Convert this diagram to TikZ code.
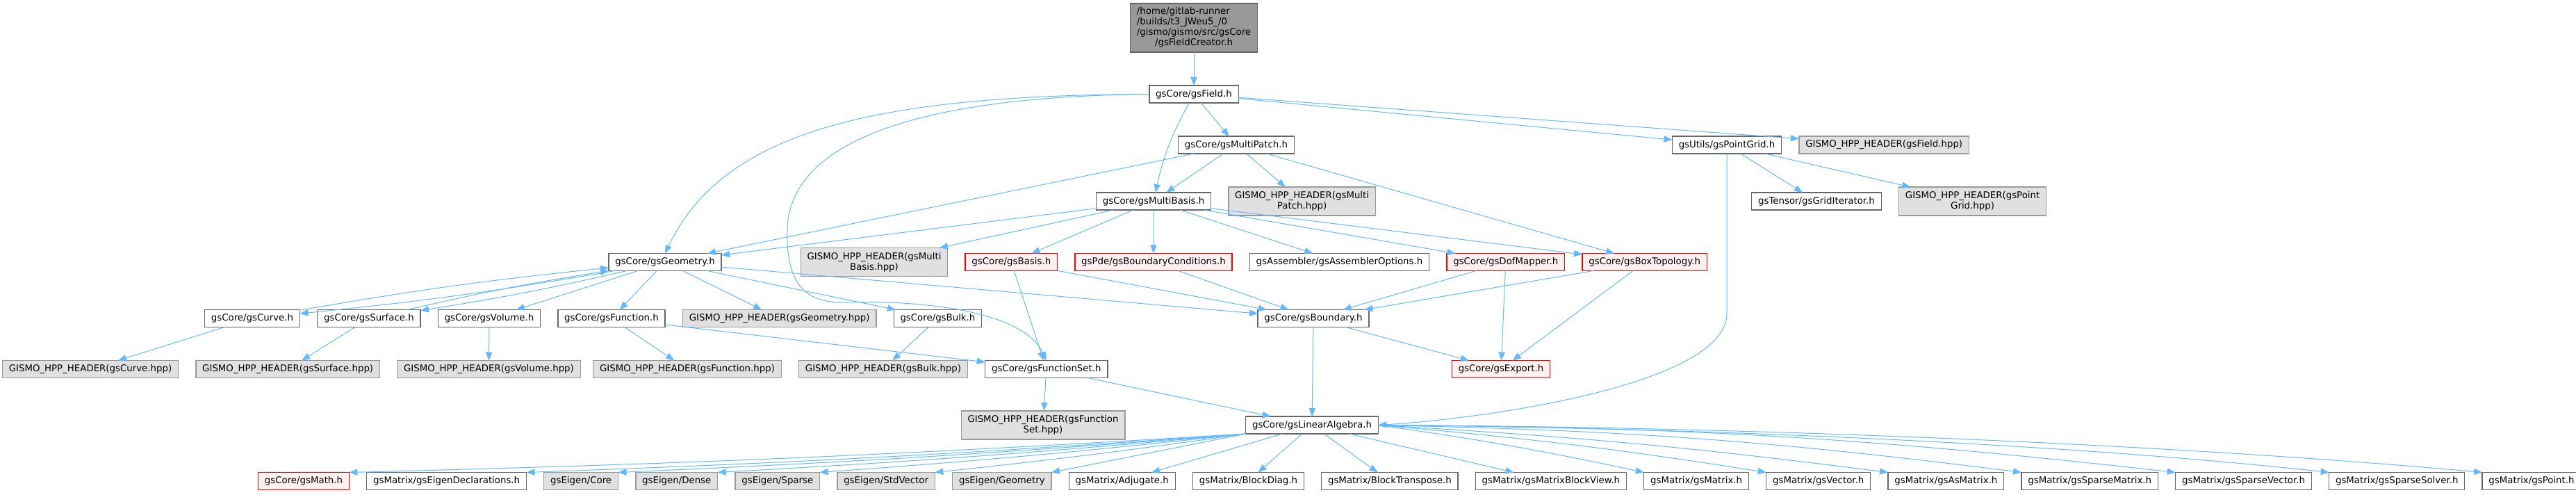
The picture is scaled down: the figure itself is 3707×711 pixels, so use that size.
\documentclass[tikz,border=0pt]{standalone}
\usepackage{fontspec}
\setmainfont{DejaVu Sans}
\usepackage{tikz}
\usetikzlibrary{arrows.meta,positioning}
\definecolor{edgeblue}{HTML}{63B8FF}
\definecolor{hppgray}{HTML}{E0E0E0}
\definecolor{rootgray}{HTML}{999999}
\definecolor{brokenfill}{HTML}{FFF0F0}

\begin{document}
\begin{tikzpicture}[
    x=0.75pt, y=0.75pt,
    ->, >={Triangle[length=9pt,width=7pt]},
    node distance=19pt,
    every node/.style={font=\fontsize{10pt}{11.25pt}\selectfont, inner xsep=7pt, inner ysep=2pt,
        minimum height=18.75pt, line width=1pt, outer sep=0pt},
    hdr/.style={rectangle, draw=black!60, fill=white},
    hpp/.style={rectangle, draw=black!40, fill=hppgray, align=center},
    hpptwo/.style={hpp, minimum height=30.75pt},
    broken/.style={rectangle, draw=red, fill=brokenfill},
    rootfile/.style={rectangle, draw=black!60, fill=rootgray, minimum height=52.5pt},
    dep/.style={draw=edgeblue, line width=0.75pt}
]
\useasboundingbox (0,0) rectangle (3707,711);

\node[rootfile] (creator) at (1718,671) {\begin{tabular}{@{}l@{}}/home/gitlab-runner\\/builds/t3\_JWeu5\_/0\\/gismo/gismo/src/gsCore\\\multicolumn{1}{@{}c@{}}{/gsFieldCreator.h}\end{tabular}};
\node[hdr] (field) [below=36pt of creator] {gsCore/gsField.h};

\node[hdr] (multipatch) at (1779,502.5) {gsCore/gsMultiPatch.h};
\node[hdr] (pointgrid) at (2485,502.5) {gsUtils/gsPointGrid.h};
\node[hpp] (hppfield) [right=of pointgrid] {GISMO\_HPP\_HEADER(gsField.hpp)};

\node[hdr] (multibasis) at (1660,421.5) {gsCore/gsMultiBasis.h};
\node[hpptwo] (hppmultipatch) [right=of multibasis] {GISMO\_HPP\_HEADER(gsMulti\\Patch.hpp)};
\node[hdr] (griditer) at (2614,421.5) {gsTensor/gsGridIterator.h};
\node[hpptwo] (hpppointgrid) [right=of griditer] {GISMO\_HPP\_HEADER(gsPoint\\Grid.hpp)};

\node[hdr] (geometry) at (957,334) {gsCore/gsGeometry.h};
\node[hpptwo] (hppmultibasis) at (1258,334) {GISMO\_HPP\_HEADER(gsMulti\\Basis.hpp)};
\node[broken] (basis) [right=of hppmultibasis] {gsCore/gsBasis.h};
\node[broken] (bcs) [right=of basis] {gsPde/gsBoundaryConditions.h};
\node[hdr] (asmopts) [right=of bcs] {gsAssembler/gsAssemblerOptions.h};
\node[broken] (dofmapper) [right=of asmopts] {gsCore/gsDofMapper.h};
\node[broken] (boxtopo) [right=of dofmapper] {gsCore/gsBoxTopology.h};

\node[hdr] (curve) at (363,253) {gsCore/gsCurve.h};
\node[hdr] (surface) [right=of curve] {gsCore/gsSurface.h};
\node[hdr] (volume) [right=of surface] {gsCore/gsVolume.h};
\node[hdr] (function) [right=of volume] {gsCore/gsFunction.h};
\node[hpp] (hppgeometry) [right=of function] {GISMO\_HPP\_HEADER(gsGeometry.hpp)};
\node[hdr] (bulk) [right=of hppgeometry] {gsCore/gsBulk.h};
\node[hdr] (boundary) at (1890,253) {gsCore/gsBoundary.h};

\node[hpp] (hppcurve) at (130,180) {GISMO\_HPP\_HEADER(gsCurve.hpp)};
\node[hpp] (hppsurface) [right=of hppcurve] {GISMO\_HPP\_HEADER(gsSurface.hpp)};
\node[hpp] (hppvolume) [right=of hppsurface] {GISMO\_HPP\_HEADER(gsVolume.hpp)};
\node[hpp] (hppfunction) at (989,180) {GISMO\_HPP\_HEADER(gsFunction.hpp)};
\node[hpp] (hppbulk) [right=of hppfunction] {GISMO\_HPP\_HEADER(gsBulk.hpp)};
\node[hdr] (funcset) [right=of hppbulk] {gsCore/gsFunctionSet.h};
\node[broken] (export) at (2160,180) {gsCore/gsExport.h};

\node[hpptwo] (hppfuncset) at (1501,99.5) {GISMO\_HPP\_HEADER(gsFunction\\Set.hpp)};
\node[hdr] (linalg) at (1888,99.5) {gsCore/gsLinearAlgebra.h};

\node[broken] (math) at (437,19) {gsCore/gsMath.h};
\node[hdr] (eigdecl) [right=of math] {gsMatrix/gsEigenDeclarations.h};
\node[hpp] (eigcore) [right=of eigdecl] {gsEigen/Core};
\node[hpp] (eigdense) [right=of eigcore] {gsEigen/Dense};
\node[hpp] (eigsparse) [right=of eigdense] {gsEigen/Sparse};
\node[hpp] (eigstdvec) [right=of eigsparse] {gsEigen/StdVector};
\node[hpp] (eiggeom) [right=of eigstdvec] {gsEigen/Geometry};
\node[hdr] (adjugate) [right=of eiggeom] {gsMatrix/Adjugate.h};
\node[hdr] (blockdiag) [right=of adjugate] {gsMatrix/BlockDiag.h};
\node[hdr] (blocktrans) [right=of blockdiag] {gsMatrix/BlockTranspose.h};
\node[hdr] (blockview) [right=of blocktrans] {gsMatrix/gsMatrixBlockView.h};
\node[hdr] (matrix) [right=of blockview] {gsMatrix/gsMatrix.h};
\node[hdr] (vector) [right=of matrix] {gsMatrix/gsVector.h};
\node[hdr] (asmatrix) [right=of vector] {gsMatrix/gsAsMatrix.h};
\node[hdr] (spmatrix) [right=of asmatrix] {gsMatrix/gsSparseMatrix.h};
\node[hdr] (spvector) [right=of spmatrix] {gsMatrix/gsSparseVector.h};
\node[hdr] (spsolver) [right=of spvector] {gsMatrix/gsSparseSolver.h};
\node[hdr] (point) [right=of spsolver] {gsMatrix/gsPoint.h};

\draw[dep] (creator) -- (field);
\draw[dep] (field.west) .. controls (1250,574) and (1040,520) .. (geometry.north);
\draw[dep] (field.west) .. controls (1300,572) and (1135,500) .. (1133,380) .. controls (1131,300) and (1160,274) .. (1220,276) .. controls (1300,279) and (1470,270) .. (funcset.north);
\draw[dep] (field) to[bend right=8] (multibasis);
\draw[dep] (field) -- (multipatch);
\draw[dep] (field) -- (pointgrid);
\draw[dep] (field) -- (hppfield);

\draw[dep] (multipatch) -- (geometry);
\draw[dep] (multipatch) -- (multibasis);
\draw[dep] (multipatch) -- (hppmultipatch);
\draw[dep] (multipatch) -- (boxtopo);
\draw[dep] (pointgrid) -- (griditer);
\draw[dep] (pointgrid) -- (hpppointgrid);
\draw[dep] (pointgrid.south) -- (2485,260) .. controls (2485,160) and (2150,110) .. (linalg.east);

\draw[dep] (multibasis) -- (geometry);
\draw[dep] (multibasis) -- (hppmultibasis);
\draw[dep] (multibasis) -- (basis);
\draw[dep] (multibasis) -- (bcs);
\draw[dep] (multibasis) -- (asmopts);
\draw[dep] (multibasis) -- (dofmapper);
\draw[dep] (multibasis) -- (boxtopo);

\draw[dep] (geometry) to[bend left=2] (curve);
\draw[dep] (curve) to[bend left=2] (geometry);
\draw[dep] (geometry) to[bend left=2] (surface);
\draw[dep] (surface) to[bend left=2] (geometry);
\draw[dep] (geometry) -- (volume);
\draw[dep] (geometry) -- (function);
\draw[dep] (geometry) -- (hppgeometry);
\draw[dep] (geometry) -- (bulk);
\draw[dep] (geometry) -- (boundary);

\draw[dep] (curve) -- (hppcurve);
\draw[dep] (surface) -- (hppsurface);
\draw[dep] (volume) -- (hppvolume);
\draw[dep] (function) -- (hppfunction);
\draw[dep] (function) -- (funcset);
\draw[dep] (bulk) -- (hppbulk);

\draw[dep] (basis) -- (funcset);
\draw[dep] (basis) -- (boundary);
\draw[dep] (bcs) -- (boundary);
\draw[dep] (dofmapper) -- (boundary);
\draw[dep] (dofmapper) -- (export);
\draw[dep] (boxtopo) -- (boundary);
\draw[dep] (boxtopo) -- (export);
\draw[dep] (boundary) -- (export);
\draw[dep] (boundary) -- (linalg);
\draw[dep] (funcset) -- (hppfuncset);
\draw[dep] (funcset) -- (linalg);

\draw[dep] (linalg.south west) to[bend left=1] (math.north east);
\draw[dep] (linalg.south west) to[bend left=1] (eigdecl.north east);
\draw[dep] (linalg.south west) to[bend left=1] (eigcore.north east);
\draw[dep] (linalg.south west) to[bend left=1] (eigdense.north east);
\draw[dep] (linalg.south west) to[bend left=1] (eigsparse.north east);
\draw[dep] (linalg.south west) to[bend left=1] (eigstdvec.north east);
\draw[dep] (linalg.south west) -- (eiggeom.north east);
\draw[dep] (linalg) -- (adjugate);
\draw[dep] (linalg) -- (blockdiag);
\draw[dep] (linalg) -- (blocktrans);
\draw[dep] (linalg) -- (blockview);
\draw[dep] (linalg.east) to[bend left=2] (matrix.north west);
\draw[dep] (linalg.east) to[bend left=2] (vector.north west);
\draw[dep] (linalg.east) to[bend left=2] (asmatrix.north west);
\draw[dep] (linalg.east) to[bend left=3] (spmatrix.north west);
\draw[dep] (linalg.east) to[bend left=3] (spvector.north west);
\draw[dep] (linalg.east) .. controls (2500,95) and (3000,70) .. (spsolver.north west);
\draw[dep] (linalg.east) .. controls (2550,97) and (3150,70) .. (point.north west);

\end{tikzpicture}
\end{document}
